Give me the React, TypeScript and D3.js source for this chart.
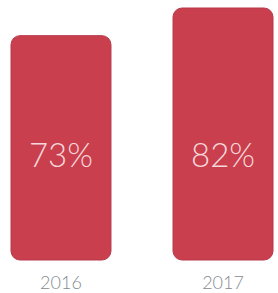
import React from "react";
import * as d3 from "d3";

const categories = ["2016", "2017"];
const values = [73, 82];
const valueLabels = ["73%", "82%"];

const W = 278;
const H = 293;

export default function App() {
  const x = d3.scaleBand<string>().domain(categories).range([11, 273]).paddingInner(0.383).paddingOuter(0);
  const y = d3.scaleLinear().domain([0, d3.max(values) as number]).range([260, 8]);
  return (
    <svg width={W} height={H} style={{ position: "absolute", left: 0, top: 0, background: "#fff" }}>
      {categories.map((c, i) => {
        const bx = x(c) as number;
        const bw = x.bandwidth();
        const top = y(values[i]);
        return (
          <g key={c}>
            <rect x={bx} y={top} width={bw} height={y(0) - top} rx={9} ry={9} fill="#c93f4e" stroke="#b8394a" strokeWidth={1} />
            <text x={bx + bw / 2} y={167} textAnchor="middle" fontFamily="Lato" fontWeight={300} fontSize={33} fill="#f6d7da">
              {valueLabels[i]}
            </text>
            <text x={bx + bw / 2} y={289} textAnchor="middle" fontFamily="Lato" fontWeight={300} fontSize={18} fill="#868b90">
              {c}
            </text>
          </g>
        );
      })}
    </svg>
  );
}
